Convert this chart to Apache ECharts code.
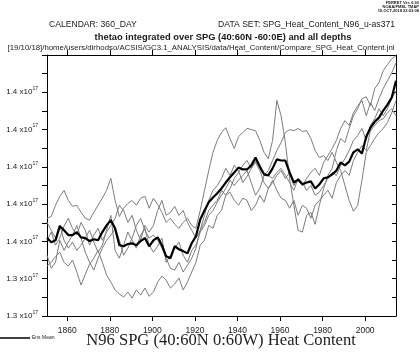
<!DOCTYPE html>
<html>
<head>
<meta charset="utf-8">
<script src="https://cdn.jsdelivr.net/npm/echarts@6/dist/echarts.min.js"></script>
<style>
html,body{margin:0;padding:0;background:#fff;}
#chart{width:420px;height:358px;}
</style>
</head>
<body>
<div id="chart"></div>
<script>
// Years (annual means, plotted at mid-year), every second year
const years = Array.from({length: 83}, (_, i) => 1850 + 2 * i);

// Heat content in units of 1e17 J
const ensMean = [
1.3509,1.3498,1.3503,1.3541,1.3530,1.3517,1.3517,1.3525,1.3511,1.3509,
1.3501,1.3506,1.3503,1.3525,1.3543,1.3557,1.3535,1.3490,1.3487,1.3493,
1.3495,1.3490,1.3501,1.3509,1.3487,1.3503,1.3511,1.3490,1.3460,1.3455,
1.3487,1.3479,1.3474,1.3468,1.3495,1.3514,1.3559,1.3583,1.3605,1.3618,
1.3629,1.3642,1.3658,1.3672,1.3685,1.3698,1.3693,1.3693,1.3704,1.3725,
1.3701,1.3680,1.3677,1.3696,1.3720,1.3717,1.3717,1.3685,1.3658,1.3666,
1.3653,1.3658,1.3661,1.3642,1.3653,1.3669,1.3672,1.3680,1.3690,1.3712,
1.3704,1.3714,1.3739,1.3747,1.3736,1.3781,1.3805,1.3821,1.3832,1.3851,
1.3867,1.3886,1.3931];

const memberA = [
1.3562,1.3567,1.3597,1.3621,1.3637,1.3610,1.3594,1.3597,1.3578,1.3562,
1.3557,1.3578,1.3597,1.3616,1.3637,1.3669,1.3610,1.3567,1.3589,1.3602,
1.3610,1.3597,1.3616,1.3621,1.3589,1.3616,1.3599,1.3578,1.3551,1.3562,
1.3546,1.3535,1.3551,1.3562,1.3543,1.3535,1.3583,1.3637,1.3690,1.3739,
1.3771,1.3792,1.3805,1.3776,1.3749,1.3781,1.3792,1.3803,1.3800,1.3797,
1.3771,1.3739,1.3722,1.3771,1.3878,1.3837,1.3765,1.3669,1.3597,1.3530,
1.3525,1.3570,1.3578,1.3546,1.3597,1.3642,1.3677,1.3696,1.3744,1.3776,
1.3765,1.3803,1.3837,1.3856,1.3883,1.3888,1.3864,1.3910,1.3926,1.3958,
1.3974,1.3990,1.3998];

const memberB = [
1.3503,1.3525,1.3490,1.3509,1.3541,1.3562,1.3535,1.3517,1.3551,1.3530,
1.3490,1.3517,1.3535,1.3503,1.3525,1.3543,1.3562,1.3597,1.3583,1.3551,
1.3570,1.3530,1.3503,1.3543,1.3525,1.3543,1.3583,1.3610,1.3570,1.3578,
1.3594,1.3570,1.3583,1.3551,1.3530,1.3509,1.3530,1.3570,1.3610,1.3637,
1.3650,1.3669,1.3696,1.3677,1.3704,1.3690,1.3658,1.3674,1.3696,1.3717,
1.3696,1.3677,1.3690,1.3717,1.3744,1.3765,1.3792,1.3800,1.3797,1.3803,
1.3795,1.3797,1.3776,1.3744,1.3725,1.3730,1.3717,1.3739,1.3712,1.3690,
1.3650,1.3610,1.3581,1.3597,1.3664,1.3739,1.3757,1.3776,1.3792,1.3803,
1.3819,1.3845,1.3878];

const memberC = [
1.3434,1.3444,1.3460,1.3471,1.3444,1.3434,1.3450,1.3418,1.3383,1.3412,
1.3439,1.3455,1.3476,1.3444,1.3410,1.3391,1.3370,1.3359,1.3351,1.3364,
1.3348,1.3370,1.3356,1.3375,1.3353,1.3364,1.3391,1.3407,1.3396,1.3375,
1.3386,1.3402,1.3370,1.3391,1.3418,1.3444,1.3490,1.3503,1.3543,1.3535,
1.3570,1.3583,1.3624,1.3632,1.3610,1.3597,1.3616,1.3610,1.3583,1.3597,
1.3624,1.3605,1.3642,1.3664,1.3637,1.3616,1.3610,1.3589,1.3610,1.3570,
1.3597,1.3589,1.3562,1.3597,1.3610,1.3624,1.3637,1.3616,1.3658,1.3677,
1.3690,1.3677,1.3717,1.3739,1.3757,1.3744,1.3797,1.3811,1.3824,1.3829,
1.3845,1.3856,1.3837];

const memberD = [
1.3551,1.3530,1.3509,1.3543,1.3503,1.3482,1.3498,1.3476,1.3490,1.3509,
1.3530,1.3498,1.3471,1.3490,1.3530,1.3570,1.3476,1.3455,1.3490,1.3525,
1.3503,1.3482,1.3517,1.3535,1.3490,1.3471,1.3487,1.3509,1.3444,1.3463,
1.3482,1.3498,1.3463,1.3444,1.3476,1.3490,1.3525,1.3543,1.3570,1.3583,
1.3605,1.3624,1.3642,1.3664,1.3650,1.3664,1.3677,1.3690,1.3658,1.3624,
1.3642,1.3677,1.3677,1.3669,1.3685,1.3696,1.3677,1.3658,1.3637,1.3669,
1.3650,1.3669,1.3685,1.3696,1.3677,1.3712,1.3730,1.3749,1.3771,1.3803,
1.3824,1.3811,1.3845,1.3864,1.3878,1.3837,1.3872,1.3851,1.3883,1.3910,
1.3931,1.3952,1.3979];

const memberE = [
1.3463,1.3428,1.3444,1.3503,1.3476,1.3498,1.3517,1.3543,1.3509,1.3471,
1.3444,1.3423,1.3455,1.3482,1.3503,1.3517,1.3535,1.3503,1.3463,1.3482,
1.3509,1.3543,1.3562,1.3530,1.3509,1.3517,1.3503,1.3482,1.3455,1.3428,
1.3423,1.3444,1.3418,1.3436,1.3455,1.3482,1.3530,1.3551,1.3583,1.3597,
1.3610,1.3637,1.3624,1.3642,1.3669,1.3685,1.3704,1.3717,1.3696,1.3712,
1.3690,1.3658,1.3642,1.3658,1.3677,1.3690,1.3669,1.3685,1.3650,1.3669,
1.3658,1.3637,1.3650,1.3624,1.3632,1.3650,1.3669,1.3685,1.3677,1.3704,
1.3722,1.3744,1.3771,1.3784,1.3803,1.3771,1.3811,1.3829,1.3856,1.3837,
1.3856,1.3883,1.3904];

// Axis ticks and labels
const xTickYears = [1860, 1880, 1900, 1920, 1940, 1960, 1980, 2000];
const yLabelValues = [1.33, 1.34, 1.35, 1.36, 1.37, 1.38, 1.39];
const yTickLabels = ['1.3', '1.3', '1.4', '1.4', '1.4', '1.4', '1.4'];
const yTickValues = [1.33,1.335,1.34,1.345,1.35,1.355,1.36,1.365,1.37,1.375,1.38,1.385,1.39,1.395,1.40];

const members = [memberA, memberB, memberC, memberD, memberE];
const toPairs = arr => arr.map((v, i) => [years[i] + 0.5, v]);

const chart = echarts.init(document.getElementById('chart'), null, {renderer: 'canvas'});
const axisLineStyle = {color: '#000', width: 1};
const txt = '#1a1a1a';

const series = members.map((m, k) => ({
  type: 'line', name: 'member' + (k + 1), data: toPairs(m), showSymbol: false,
  lineStyle: {color: '#7c7c7c', width: 1}, z: 2, silent: true
}));
series.push({
  type: 'line', name: 'Ens Mean', data: toPairs(ensMean), showSymbol: false,
  lineStyle: {color: '#000', width: 2.2}, z: 3, silent: true
});

chart.setOption({
  animation: false,
  backgroundColor: '#fff',
  grid: {left: 47, right: 24, top: 55, bottom: 42, containLabel: false},
  xAxis: [{
    type: 'value', min: 1850.5, max: 2014.5, position: 'bottom',
    axisLine: {show: true, lineStyle: axisLineStyle},
    axisTick: {show: true, customValues: xTickYears, length: 5, inside: false, lineStyle: axisLineStyle},
    axisLabel: {show: true, customValues: xTickYears, color: txt, fontSize: 8.5, margin: 10, fontFamily: 'Liberation Sans', formatter: v => String(v)},
    splitLine: {show: false}
  }, {
    type: 'value', min: 1850.5, max: 2014.5, position: 'top',
    axisLine: {show: true, lineStyle: axisLineStyle},
    axisTick: {show: true, customValues: xTickYears, length: 5, inside: false, lineStyle: axisLineStyle},
    axisLabel: {show: false},
    splitLine: {show: false}
  }],
  yAxis: [{
    type: 'value', min: 1.33, max: 1.40, position: 'left',
    axisLine: {show: true, lineStyle: axisLineStyle},
    axisTick: {show: true, customValues: yTickValues, length: 5, inside: false, lineStyle: axisLineStyle},
    axisLabel: {
      show: true, customValues: yLabelValues, margin: 9,
      formatter: v => {
        const i = Math.round((v - 1.33) / 0.01);
        return '{a|' + yTickLabels[i] + ' x10}{s|17}';
      },
      rich: {
        a: {fontSize: 8, color: txt, fontFamily: 'Liberation Sans', lineHeight: 12},
        s: {fontSize: 5, color: txt, fontFamily: 'Liberation Sans', lineHeight: 8, verticalAlign: 'top'}
      }
    },
    splitLine: {show: false}
  }, {
    type: 'value', min: 1.33, max: 1.40, position: 'right',
    axisLine: {show: true, lineStyle: axisLineStyle},
    axisTick: {show: true, customValues: yTickValues, length: 4, inside: true, lineStyle: axisLineStyle},
    axisLabel: {show: false},
    splitLine: {show: false}
  }],
  series: series,
  graphic: [
    {type: 'text', x: 49, y: 25, style: {text: 'CALENDAR: 360_DAY', font: '8.6px "Liberation Sans"', fill: txt, align: 'left', verticalAlign: 'middle'}},
    {type: 'text', x: 395, y: 25, style: {text: 'DATA SET: SPG_Heat_Content_N96_u-as371', font: '8.6px "Liberation Sans"', fill: txt, align: 'right', verticalAlign: 'middle'}},
    {type: 'text', x: 223, y: 37, style: {text: 'thetao integrated over SPG (40:60N -60:0E) and all depths', font: 'bold 9.4px "Liberation Sans"', fill: txt, align: 'center', verticalAlign: 'middle'}},
    {type: 'text', x: 201, y: 48, style: {text: '[19/10/18]/home/users/dirhodso/ACSIS/GC3.1_ANALYSIS/data/Heat_Content/Compare_SPG_Heat_Content.jnl', font: '7.8px "Liberation Sans"', fill: txt, align: 'center', verticalAlign: 'middle'}},
    {type: 'text', x: 419, y: 3, style: {text: 'FERRET Ver. 6.93', font: 'bold 4px "Liberation Sans"', fill: txt, align: 'right', verticalAlign: 'middle'}},
    {type: 'text', x: 419, y: 7, style: {text: 'NOAA/PMEL TMAP', font: 'bold 4px "Liberation Sans"', fill: txt, align: 'right', verticalAlign: 'middle'}},
    {type: 'text', x: 419, y: 11, style: {text: '19-OCT-2018 22:03:08', font: 'bold 4px "Liberation Sans"', fill: txt, align: 'right', verticalAlign: 'middle'}},
    {type: 'line', shape: {x1: 0, y1: 338, x2: 30, y2: 338}, style: {stroke: '#000', lineWidth: 1.5}},
    {type: 'text', x: 32, y: 338, style: {text: 'Ens Mean', font: '5px "Liberation Sans"', fill: txt, align: 'left', verticalAlign: 'middle'}},
    {type: 'text', x: 221, y: 341, style: {text: 'N96 SPG (40:60N 0:60W) Heat Content', font: '16.6px "Liberation Serif"', fill: '#222', align: 'center', verticalAlign: 'middle'}}
  ]
});
</script>
</body>
</html>
